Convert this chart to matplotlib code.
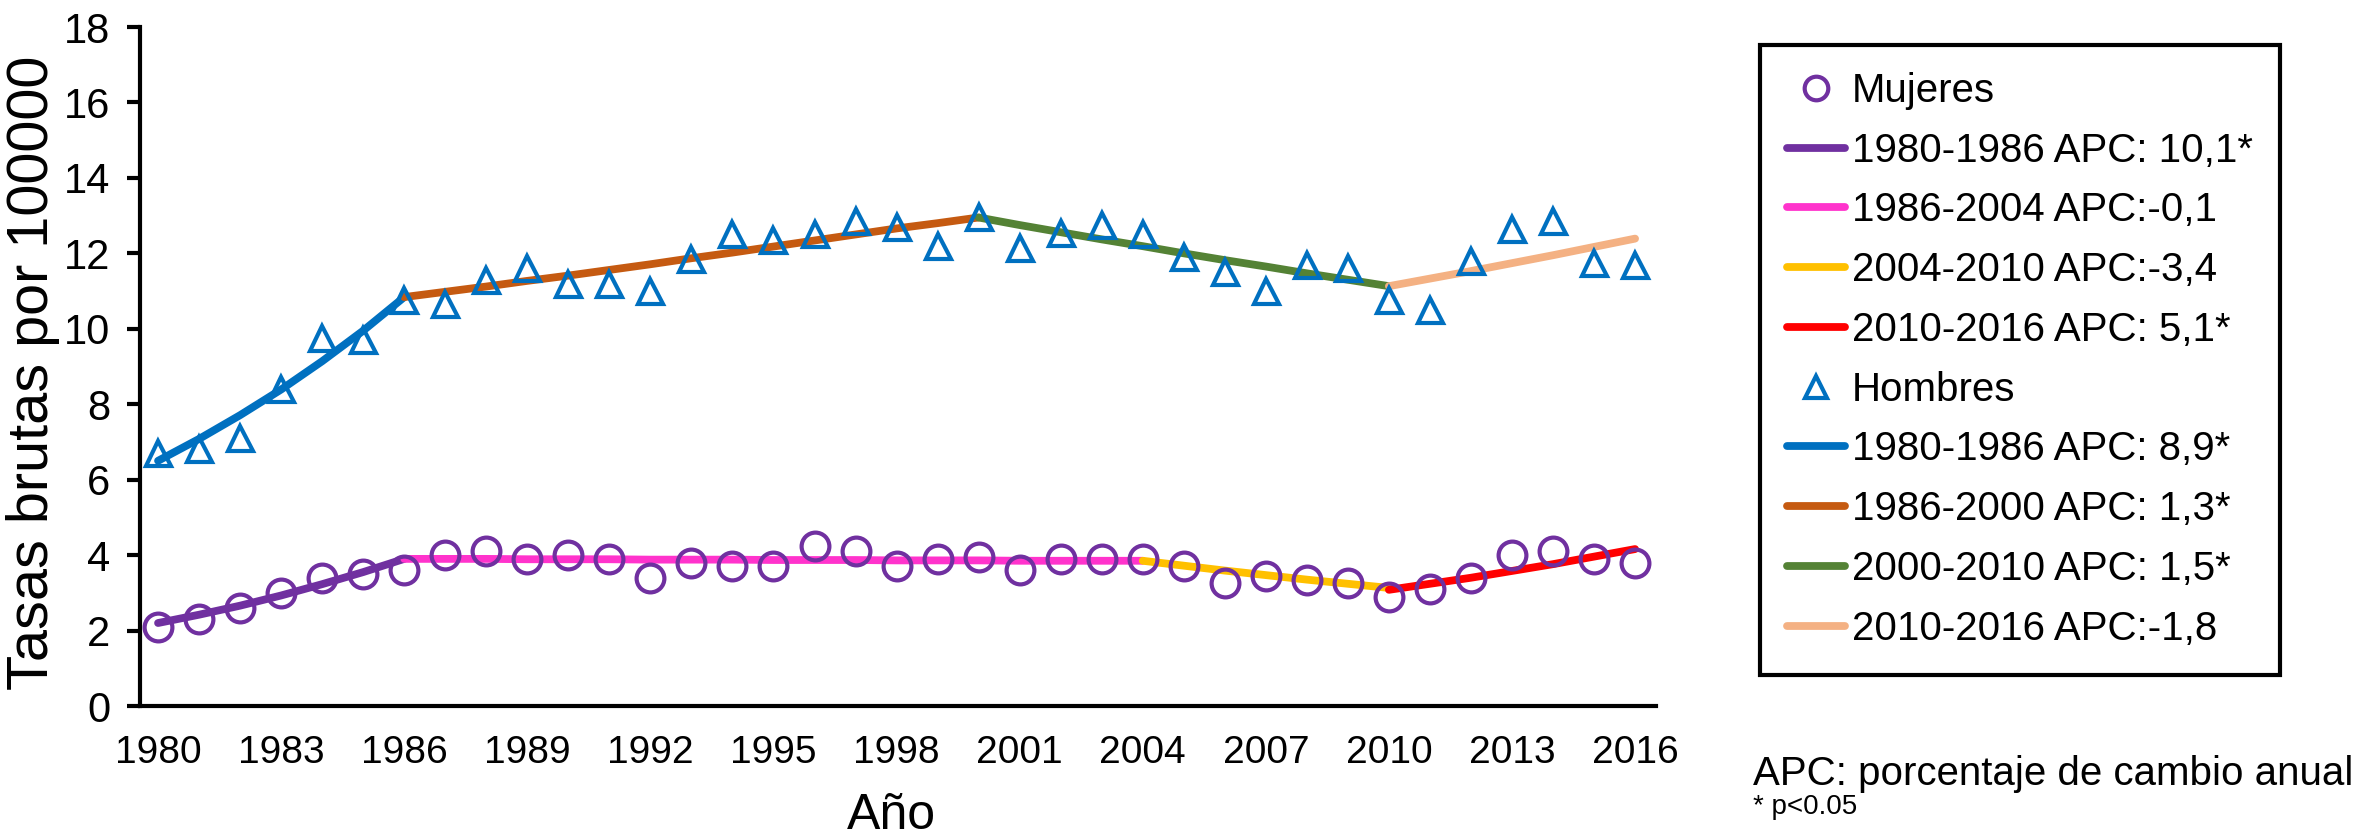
import matplotlib
matplotlib.use("Agg")
import matplotlib.pyplot as plt

plt.rcParams['font.family'] = ['Liberation Sans', 'DejaVu Sans']

years = list(range(1980, 2017))

# tasas observadas
mujeres = [2.1, 2.3, 2.6, 3.0, 3.4, 3.5, 3.6, 4.0, 4.1, 3.9, 4.0, 3.9, 3.4, 3.8, 3.7, 3.7,
           4.25, 4.1, 3.7, 3.9, 3.95, 3.6, 3.9, 3.9, 3.9, 3.7, 3.25, 3.45, 3.35, 3.25,
           2.9, 3.1, 3.4, 4.0, 4.1, 3.9, 3.8]
hombres = [6.7, 6.8, 7.1, 8.4, 9.75, 9.7, 10.75, 10.65, 11.3, 11.6, 11.2, 11.2, 11.0, 11.85,
           12.5, 12.35, 12.5, 12.85, 12.7, 12.2, 12.95, 12.15, 12.55, 12.75, 12.5, 11.9,
           11.5, 11.0, 11.7, 11.6, 10.75, 10.5, 11.8, 12.65, 12.85, 11.75, 11.7]

# tendencias joinpoint (valores ajustados por año)
muj_seg1_x = [1980, 1981, 1982, 1983, 1984, 1985, 1986]
muj_seg1_y = [2.2, 2.42, 2.66, 2.93, 3.23, 3.55, 3.9]
muj_seg2_x = list(range(1986, 2005))
muj_seg2_y = [3.9, 3.9, 3.9, 3.89, 3.89, 3.89, 3.88, 3.88, 3.88, 3.87, 3.87, 3.87, 3.86,
              3.86, 3.86, 3.85, 3.85, 3.85, 3.85]
muj_seg3_x = list(range(2004, 2011))
muj_seg3_y = [3.85, 3.72, 3.59, 3.47, 3.35, 3.24, 3.13]
muj_seg4_x = list(range(2010, 2017))
muj_seg4_y = [3.08, 3.24, 3.4, 3.58, 3.76, 3.96, 4.16]

hom_seg1_x = list(range(1980, 1987))
hom_seg1_y = [6.5, 7.08, 7.71, 8.39, 9.14, 9.95, 10.84]
hom_seg2_x = list(range(1986, 2001))
hom_seg2_y = [10.84, 10.98, 11.12, 11.27, 11.41, 11.56, 11.71, 11.87, 12.02, 12.18, 12.34,
              12.5, 12.66, 12.8, 12.95]
hom_seg3_x = list(range(2000, 2011))
hom_seg3_y = [12.95, 12.75, 12.56, 12.37, 12.19, 12.0, 11.82, 11.65, 11.47, 11.3, 11.13]
hom_seg4_x = list(range(2010, 2017))
hom_seg4_y = [11.13, 11.33, 11.53, 11.74, 11.95, 12.17, 12.39]

etiquetas_muj = ['1980-1986 APC: 10,1*', '1986-2004 APC:-0,1',
                 '2004-2010 APC:-3,4', '2010-2016 APC: 5,1*']
etiquetas_hom = ['1980-1986 APC: 8,9*', '1986-2000 APC: 1,3*',
                 '2000-2010 APC: 1,5*', '2010-2016 APC:-1,8']
colores_muj = ['#7030A0', '#FF33CC', '#FFC000', '#FF0000']
colores_hom = ['#0070C0', '#C55A11', '#548235', '#F4B183']

W, H = 2371, 838
fig = plt.figure(figsize=(W / 100, H / 100), dpi=100)
ax = fig.add_axes([140 / W, 1 - 706 / H, (1656 - 140) / W, (706 - 27) / H])

lw = 5.6
handles = []
m1, = ax.plot(years, mujeres, 'o', ms=20, mfc='none', mec='#7030A0', mew=3,
              zorder=4, label='Mujeres')
handles.append(m1)
for sx, sy, c, lab in zip([muj_seg1_x, muj_seg2_x, muj_seg3_x, muj_seg4_x],
                          [muj_seg1_y, muj_seg2_y, muj_seg3_y, muj_seg4_y],
                          colores_muj, etiquetas_muj):
    l, = ax.plot(sx, sy, '-', color=c, lw=lw, solid_capstyle='round', zorder=2, label=lab)
    handles.append(l)

m2, = ax.plot(years, hombres, '^', ms=18, mfc='none', mec='#0070C0', mew=3,
              zorder=4, label='Hombres')
handles.append(m2)
for sx, sy, c, lab in zip([hom_seg1_x, hom_seg2_x, hom_seg3_x, hom_seg4_x],
                          [hom_seg1_y, hom_seg2_y, hom_seg3_y, hom_seg4_y],
                          colores_hom, etiquetas_hom):
    l, = ax.plot(sx, sy, '-', color=c, lw=lw, solid_capstyle='round', zorder=2, label=lab)
    handles.append(l)

ax.set_xlim(1979.56, 2016.51)
ax.set_ylim(0, 18)
ax.set_xticks(list(range(1980, 2017, 3)))
ax.set_yticks(list(range(0, 19, 2)))
ax.spines['top'].set_visible(False)
ax.spines['right'].set_visible(False)
for s in ['left', 'bottom']:
    ax.spines[s].set_linewidth(3)
ax.tick_params(axis='x', length=0, pad=21, labelsize=28)
ax.tick_params(axis='y', length=9.5, width=3, pad=12, labelsize=30)

ax.set_ylabel('Tasas brutas por 100000', fontsize=41.5)
ax.yaxis.set_label_coords(-0.053, 0.49)
ax.set_xlabel('Año', fontsize=36)
ax.xaxis.set_label_coords(0.496, -0.128)

leg = fig.legend(handles=handles, loc='upper left',
                 bbox_to_anchor=(1760 / W, 1 - 45 / H), bbox_transform=fig.transFigure,
                 borderaxespad=0, fontsize=29, handlelength=1.44, handletextpad=0.17,
                 borderpad=0.67, labelspacing=0.54, markerscale=0.85,
                 fancybox=False, framealpha=1, edgecolor='black')
leg.get_frame().set_linewidth(3)

fig.text(1753 / W, 1 - 785 / H, 'APC: porcentaje de cambio anual', fontsize=29,
         va='baseline', ha='left')
fig.text(1753 / W, 1 - 814 / H, '* p<0.05', fontsize=20, va='baseline', ha='left')

fig.savefig('out.png', dpi=100)
